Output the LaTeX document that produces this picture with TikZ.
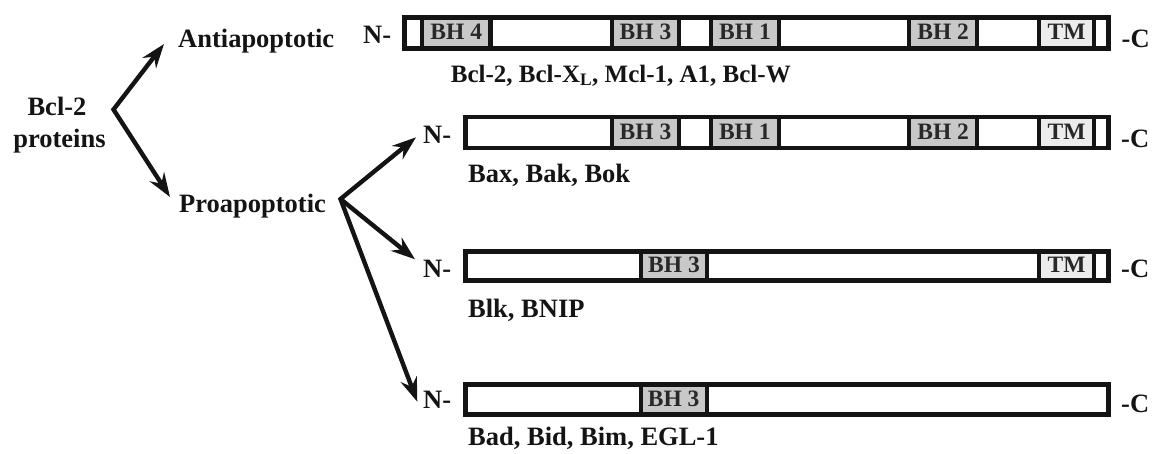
\documentclass[tikz,border=0pt]{standalone}
\usepackage{fontspec}
\setmainfont{Liberation Serif}
\usetikzlibrary{arrows.meta}

\definecolor{bhgray}{RGB}{200,200,200}
\definecolor{tmgray}{RGB}{236,236,236}
\definecolor{ink}{RGB}{20,20,20}
\definecolor{domink}{RGB}{40,40,40}

% \domain{name}{style}{x left}{x right}{y top}{y bottom}{text}
\newcommand\domain[7]{%
  \draw[#2] (#3,#5) rectangle (#4,#6);
  \node[dlabel] (#1) at ({(#3+#4)/2},{(#5+#6)/2-1}) {#7};}

\begin{document}
\begin{tikzpicture}[x=1pt,y=-1pt,
  lbl/.style={font=\fontsize{26.5}{32}\selectfont\bfseries, text=ink, inner sep=0pt, anchor=base west},
  frame/.style={draw=ink, line width=4.6pt, line join=miter},
  bh/.style={draw=ink, line width=4.2pt, fill=bhgray},
  tm/.style={draw=ink, line width=4.2pt, fill=tmgray},
  dlabel/.style={font=\fontsize{23.5}{28}\selectfont\bfseries, text=domink, inner sep=0pt},
  tip/.style={Stealth[length=24pt,width=17pt,inset=8pt]},
  arr/.style={draw=ink, line width=4.4pt, line join=miter, -{Stealth[length=24pt,width=17pt,inset=8pt]}},
  arrs/.style={draw=ink, line width=4.4pt, line join=miter,
    {Stealth[length=24pt,width=17pt,inset=8pt]}-{Stealth[length=24pt,width=17pt,inset=8pt]}},
]
\useasboundingbox (0,0) rectangle (1152,453);

% ---- family labels ----
\node[lbl, anchor=base] (bcl) at (57,115) {Bcl-2};
\node[lbl, anchor=base] (prot) at (59.5,147) {proteins};
\node[lbl] (anti) at (178,47) {Antiapoptotic};
\node[lbl] (pro) at (179,212) {Proapoptotic};

% ---- branching arrows ----
\coordinate (fork1) at (113.5,109.5);
\coordinate (tipAnti) at (164,44);
\coordinate (tipPro) at (170,197);
\draw[arrs] (tipAnti) -- (fork1) -- (tipPro);

\coordinate (fork2) at (340.5,199);
\coordinate (tipR2) at (416,137.3);
\coordinate (tipR3) at (415,259.3);
\coordinate (tipR4) at (417.3,401.7);
\draw[arrs] (tipR2) -- (fork2) -- (tipR4);
\draw[arr] (fork2) -- (tipR3);

% ---- row 1: antiapoptotic ----
\node[lbl] (n1) at (363,43.5) {N-};
\node[lbl] (c1) at (1121.5,47) {-C};
\fill[white] (404.7,17.3) rectangle (1108.7,48.7);
\domain{r1bh4}{bh}{422}{490.5}{17.3}{48.7}{BH 4}
\domain{r1bh3}{bh}{612}{679}{17.3}{48.7}{BH 3}
\domain{r1bh1}{bh}{711}{779}{17.3}{48.7}{BH 1}
\domain{r1bh2}{bh}{909}{977.3}{17.3}{48.7}{BH 2}
\domain{r1tm}{tm}{1039.3}{1094}{17.3}{48.7}{TM}
\draw[frame] (404.7,17.3) rectangle (1108.7,48.7);
\node[lbl, font=\fontsize{25}{30}\selectfont\bfseries] (m1) at (450.7,82)
  {Bcl-2, Bcl-X\textsubscript{L}, Mcl-1, A1, Bcl-W};

% ---- row 2: multidomain proapoptotic ----
\node[lbl] (n2) at (423,143) {N-};
\node[lbl] (c2) at (1121,147) {-C};
\fill[white] (465.3,117) rectangle (1108.7,148);
\domain{r2bh3}{bh}{611.7}{679.3}{117}{148}{BH 3}
\domain{r2bh1}{bh}{710.7}{779}{117}{148}{BH 1}
\domain{r2bh2}{bh}{909}{977.3}{117}{148}{BH 2}
\domain{r2tm}{tm}{1039.3}{1094}{117}{148}{TM}
\draw[frame] (465.3,117) rectangle (1108.7,148);
\node[lbl] (m2) at (468,182) {Bax, Bak, Bok};

% ---- row 3: BH3 with TM ----
\node[lbl] (n3) at (423,277) {N-};
\node[lbl] (c3) at (1121,277) {-C};
\fill[white] (465.3,251.3) rectangle (1108.7,280.7);
\domain{r3bh3}{bh}{640.7}{707.3}{251.3}{280.7}{BH 3}
\domain{r3tm}{tm}{1039}{1094.3}{251.3}{280.7}{TM}
\draw[frame] (465.3,251.3) rectangle (1108.7,280.7);
\node[lbl] (m3) at (468,317) {Blk, BNIP};

% ---- row 4: BH3 only ----
\node[lbl] (n4) at (423,408) {N-};
\node[lbl] (c4) at (1121,412) {-C};
\fill[white] (465.3,384.7) rectangle (1108.7,414.7);
\domain{r4bh3}{bh}{640.7}{706.7}{384.7}{414.7}{BH 3}
\draw[frame] (465.3,384.7) rectangle (1108.7,414.7);
\node[lbl] (m4) at (468,445) {Bad, Bid, Bim, EGL-1};
\end{tikzpicture}
\end{document}
